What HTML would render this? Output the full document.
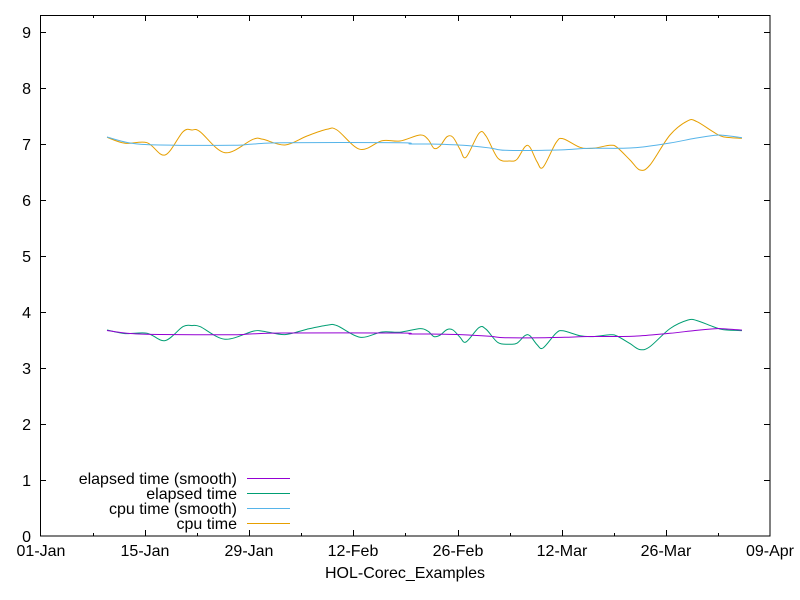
<!DOCTYPE html>
<html><head><meta charset="utf-8"><style>body{margin:0;background:#fff}svg{display:block}</style></head><body>
<svg id="s" width="800" height="600" xmlns="http://www.w3.org/2000/svg" font-family="Liberation Sans, sans-serif" font-size="16" fill="#000">
<rect width="800" height="600" fill="#fff"/>
<g stroke="#000" stroke-width="1" fill="none">
<rect x="40.5" y="15.5" width="729.5" height="520.5"/>
<path d="M40 480.5h6M40 424.5h6M40 368.5h6M40 312.5h6M40 256.5h6M40 200.5h6M40 144.5h6M40 88.5h6M40 32.5h6
M770 480.5h-6M770 424.5h-6M770 368.5h-6M770 312.5h-6M770 256.5h-6M770 200.5h-6M770 144.5h-6M770 88.5h-6M770 32.5h-6
M145.5 536v-6M249.5 536v-6M353.5 536v-6M458.5 536v-6M562.5 536v-6M666.5 536v-6
M93.5 536v-3M197.5 536v-3M301.5 536v-3M405.5 536v-3M510.5 536v-3M614.5 536v-3M718.5 536v-3
M145.5 15v6M249.5 15v6M353.5 15v6M458.5 15v6M562.5 15v6M666.5 15v6
M93.5 15v3M197.5 15v3M301.5 15v3M405.5 15v3M510.5 15v3M614.5 15v3M718.5 15v3"/>
</g>
<g text-anchor="end">
<text x="31" y="542">0</text><text x="31" y="486">1</text><text x="31" y="430">2</text><text x="31" y="374">3</text><text x="31" y="318">4</text><text x="31" y="262">5</text><text x="31" y="206">6</text><text x="31" y="150">7</text><text x="31" y="94">8</text><text x="31" y="38">9</text>
</g>
<g text-anchor="middle">
<text x="41" y="556">01-Jan</text><text x="145" y="556">15-Jan</text><text x="249" y="556">29-Jan</text><text x="353" y="556">12-Feb</text><text x="458" y="556">26-Feb</text><text x="562" y="556">12-Mar</text><text x="666" y="556">26-Mar</text><text x="770" y="556">09-Apr</text>
<text x="405" y="578">HOL-Corec_Examples</text>
</g>
<g text-anchor="end">
<text x="237" y="484">elapsed time (smooth)</text>
<text x="237" y="499">elapsed time</text>
<text x="237" y="514">cpu time (smooth)</text>
<text x="237" y="529">cpu time</text>
</g>
<g stroke-width="1" fill="none">
<path d="M247 478.5h43" stroke="#9400d3"/>
<path d="M247 493.5h43" stroke="#009e73"/>
<path d="M247 508.5h43" stroke="#56b4e9"/>
<path d="M247 523.5h43" stroke="#e69f00"/>
<polyline class="c" stroke="#e69f00" points="107,137.3 125,143.3 147,142.7 165,155 183,131.7 192,130 200,131.7 225,152.7 253,139.3 263,139.3 285,145 307,136 327,129.3 337,130 360,149.3 382,140.7 400,141 420,135 428,139.3 434,148.3 440,146 447,136.7 453,137.3 460,149.3 466,157.3 479,133.3 486,136 498,158.3 510,161 517,159.3 525,146.7 530,147.3 537,161.7 543,167.3 556,142.7 563,138.7 580,147.3 593,148.3 610,145.3 617,147.3 630,160 640,170 650,165 670,135 688,120.7 697,121.7 713,131.7 723,136.7 742,138.3"/>
<polyline class="c" stroke="#56b4e9" points="107,137 130,143 160,145 233,145.3 250,144.3 283,142.7 400,142.7 410,144 430,144 463,145.3 490,148 505,150.3 545,150.3 565,149.7 590,148.3 620,148.3 640,147.3 670,143 695,138.3 715,135.3 723,135.3 742,137.7"/>
<polyline class="c" stroke="#009e73" points="107,330 125,333.6 147,333.2 165,340.6 183,326.6 192,325.6 200,326.6 225,339.2 253,331.2 263,331.2 285,334.6 307,329.2 327,325.2 337,325.6 360,337.2 382,332 400,332.2 420,328.6 428,331.2 434,336.6 440,335.2 447,329.6 453,330 460,337.2 466,342 479,327.6 486,329.2 498,342.6 510,344.2 517,343.2 525,335.6 530,335.8 537,344.6 543,348 556,333.2 563,330.8 580,335.8 593,336.6 610,334.8 617,336 630,343.6 640,349.6 650,346.6 670,328.6 688,320 697,320.6 713,326.6 723,329.6 742,330.6"/>
<polyline class="c" stroke="#9400d3" points="107,330.5 130,333.5 160,334.5 233,334.7 250,334 283,333 400,333 410,334 430,334 463,334.7 490,336.3 505,337.7 545,337.7 565,337.3 590,336.5 620,336.5 640,335.9 670,333.3 695,330.5 715,328.7 723,328.7 742,330.1"/>
</g>
</svg>
<script>
document.querySelectorAll('polyline.c').forEach(function(pl){
  var p=pl.getAttribute('points').trim().split(/\s+/).map(function(s){return s.split(',').map(Number);});
  var d='M'+p[0][0]+' '+p[0][1];
  for(var i=0;i<p.length-1;i++){
    var p0=p[i-1]||p[i],p1=p[i],p2=p[i+1],p3=p[i+2]||p2;
    var c1x=p1[0]+(p2[0]-p0[0])/6,c1y=p1[1]+(p2[1]-p0[1])/6;
    var c2x=p2[0]-(p3[0]-p1[0])/6,c2y=p2[1]-(p3[1]-p1[1])/6;
    d+=' C'+c1x.toFixed(2)+' '+c1y.toFixed(2)+' '+c2x.toFixed(2)+' '+c2y.toFixed(2)+' '+p2[0]+' '+p2[1];
  }
  var path=document.createElementNS('http://www.w3.org/2000/svg','path');
  path.setAttribute('d',d);path.setAttribute('stroke',pl.getAttribute('stroke'));path.setAttribute('fill','none');
  pl.parentNode.replaceChild(path,pl);
});
</script>
</body></html>
